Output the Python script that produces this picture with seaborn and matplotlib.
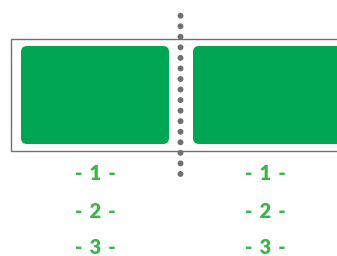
import matplotlib
matplotlib.use("Agg")
import matplotlib.pyplot as plt
from matplotlib.patches import Rectangle, FancyBboxPatch
import seaborn as sns
import pandas as pd

# ── Data ─────────────────────────────────────────────────────────────────────
columns = ["left", "right"]
row_labels = ["- 1 -", "- 2 -", "- 3 -"]
panel_color = "#00a651"
label_color = "#3bb54a"
dot_count = 16

# ── Setup ────────────────────────────────────────────────────────────────────
sns.set_theme(style="white")
plt.rcParams["font.family"] = ["Lato", "DejaVu Sans"]

fig = plt.figure(figsize=(3.37, 2.56), dpi=100)
ax = fig.add_axes([0, 0, 1, 1])
ax.set_xlim(0, 337)
ax.set_ylim(256, 0)
ax.axis("off")

# outer frame (runs off the right edge)
ax.add_patch(Rectangle((11, 38.5), 340, 112.5, fill=False,
                       edgecolor="#707070", linewidth=1.0))

# green panels
col_x = {"left": (21, 148), "right": (193, 160)}
for c in columns:
    x0, w = col_x[c]
    ax.add_patch(FancyBboxPatch((x0 + 4, 50), w - 8, 90,
                                boxstyle="round,pad=4,rounding_size=6",
                                facecolor=panel_color, edgecolor="none"))

# dotted divider
dots = pd.DataFrame({"x": [180.5] * dot_count,
                     "y": [15.7 + i * 10.55 for i in range(dot_count)]})
sns.scatterplot(data=dots, x="x", y="y", ax=ax, s=18, color="#707070",
                edgecolor="none", legend=False)

# row labels under each panel
col_center = {"left": 95, "right": 265}
row_y = [173, 211, 248]
for c in columns:
    for lab, y in zip(row_labels, row_y):
        ax.text(col_center[c], y, lab.replace(" ", "\u2009 "), ha="center",
                va="center", fontsize=14.5, fontweight="heavy",
                color=label_color)

ax.set_xlim(0, 337)
ax.set_ylim(256, 0)
plt.savefig("out.png", dpi=100)
